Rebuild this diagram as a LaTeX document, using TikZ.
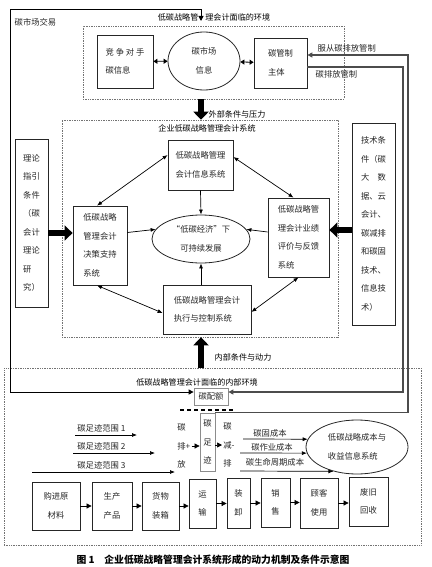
\documentclass[tikz,border=0pt]{standalone}
\usepackage{fontspec}
\setmainfont{Noto Sans CJK SC}
\usetikzlibrary{arrows.meta,shapes.geometric}

\begin{document}
\begin{tikzpicture}[x=1pt,y=-1pt,thick,
    body/.style={font=\fontsize{8.3}{18.5}\selectfont,text=black!85},
    head/.style={font=\fontsize{8.1}{10}\selectfont},
    sbox/.style 2 args={draw=black!85,line width=0.8pt,body,align=left,inner sep=0pt,minimum width=#1,minimum height=#2},
    gbox/.style 2 args={sbox={#1}{#2},draw=black!45,align=center},
    oval/.style 2 args={ellipse,draw=black!85,line width=0.8pt,body,align=left,inner sep=0pt,minimum width=#1,minimum height=#2},
    zone/.style 2 args={draw=black!55,line width=0.6pt,dash pattern=on 0.8pt off 0.9pt,inner sep=0pt,minimum width=#1,minimum height=#2},
    pair/.style={line width=0.8pt,{Triangle[length=4pt,width=5pt]}-{Triangle[length=4pt,width=5pt]}},
    link/.style={line width=0.7pt,{Latex[length=5pt,width=4pt]}-{Latex[length=5pt,width=4pt]}},
    flow/.style={line width=0.7pt,-{Latex[length=5pt,width=4pt]}},
    tip/.style={line width=0.7pt,-{Triangle[length=5pt,width=5pt]}},
    push/.style={line width=5.5pt,-{Triangle[length=8pt,width=15pt]}},
    ctl/.style={line width=1.1pt,draw=black!70,-{Triangle[length=5pt,width=5pt]}},
    trade/.style={line width=1pt,{Triangle[length=5pt,width=5pt]}-{Triangle[length=5pt,width=5pt]}},
  ]
  \useasboundingbox (0,0) rectangle (431,567);
  % Definitions
  \coordinate (axis) at (201,0);
  \coordinate (tradetop) at (201,21);
  \coordinate (tradecorner) at (10,10);
  \coordinate (obeycorner) at (408,55);
  \coordinate (emitcorner) at (403,67);

  % Outside environment
  \node[head] (envtitle) at (214,17) {低碳战略管\hspace{7pt}理会计面临的环境};
  \node[zone={261}{73}] (env) at (213.5,62.5) {};
  \node[sbox={56}{53}] (rival) at (125,61.5) {竞 争 对 手\\碳信息};
  \node[oval={72}{58},align=center] (mkt) at (204,61) {碳市场\\信息};
  \node[sbox={53}{50}] (ctrl) at (280.5,63) {碳管制\\主体};
  \draw[pair] (rival) -- (mkt);
  \draw[pair] (mkt) -- (ctrl);
  \node[body,anchor=west] (tradelbl) at (11,22) {碳市场交易};
  \node[body,anchor=west] (obeylbl) at (314,48) {服从碳排放管制};
  \node[body,anchor=west] (emitlbl) at (312,74) {碳排放管制};

  % Accounting system
  \node[zone={276}{217}] (sys) at (200,228.5) {};
  \draw[push] (env.south -| axis) -- (sys.north -| axis);
  \node[head,anchor=west] (extlbl) at (205,114) {外部条件与压力};
  \node[head] (systitle) at (207,128) {企业低碳战略管理会计系统};
  \node[sbox={65}{50}] (info) at (200.5,165) {低碳战略管理\\会计信息系统};
  \node[oval={98}{48},align=center] (goal) at (201,239) {“低碳经济”下\\可持续发展};
  \node[sbox={54}{79}] (dec) at (100,245.5) {低碳战略\\管理会计\\决策支持\\系统};
  \node[sbox={61}{79}] (eval) at (298.5,237.5) {低碳战略管\\理会计业绩\\评价与反馈\\系统};
  \node[sbox={88}{49}] (exec) at (207,309.5) {低碳战略管理会计\\执行与控制系统};
  \node[sbox={33}{168}] (theory) at (31.5,223) {理论\\指引\\条件\\（碳\\会计\\理论\\研\\究）};
  \node[sbox={43}{202}] (tech) at (373.5,224) {技术条\\件（碳\\大\quad 数\\据、云\\会计、\\碳减排\\和碳固\\技术、\\信息技\\术）};
  \draw[link] ([yshift=10pt]info.west) -- ([xshift=-3pt]dec.north);
  \draw[link] ([yshift=8pt]info.east) -- ([xshift=-5pt]eval.north);
  \draw[link] ([xshift=-3pt]dec.south) -- ([yshift=-3.5pt]exec.west);
  \draw[link] (eval.south) -- ([yshift=-2.5pt]exec.east);
  \draw[flow] (info.south) -- (goal.north);
  \draw[flow] ([yshift=13pt]dec.east) -- (goal.168);
  \draw[flow] ([yshift=5.5pt]eval.west) -- (goal.12);
  \draw[flow] (exec.north -| goal.south) -- (goal.south);
  \draw[push] ([yshift=-10pt]theory.east) -- ([yshift=12.5pt]dec.west);
  \draw[push] ([yshift=-6pt]tech.west) -- ([yshift=7.5pt]eval.east);

  % Inside environment
  \node[zone={417}{177}] (inner) at (212.5,456.5) {};
  \draw[push] (inner.north -| axis) -- (sys.south -| axis);
  \node[head,anchor=west] (intlbl) at (211,357) {内部条件与动力};
  \node[head] (innertitle) at (197,382) {低碳战略管理会计面临的内部环境};
  \node[gbox={34}{17}] (quota) at (211,396.5) {碳配额};
  \draw[line width=1.3pt,dash pattern=on 4pt off 3pt] (180,410) -- (233,410);
  \draw[trade] (tradetop) |- (tradecorner) |- ([yshift=4.5pt]quota.west);

  % Footprint scopes
  \foreach \i/\xs/\xe/\y in {1/75/137/435,2/73/155/453,3/32/175/472} {
    \coordinate (fps\i) at (\xs,\y);
    \coordinate (fpe\i) at (\xe,\y);
    \draw[flow] (fps\i) -- (fpe\i);
    \node[body,anchor=south west,inner sep=1pt] (scope\i) at (76,\y-1) {碳足迹范围 \i};
  }
  \node[body,align=left,anchor=west,inner sep=1pt] (emit) at (176,446) {碳\\排+\\放};
  \node[gbox={15}{58}] (fp) at (207.5,442) {碳\\足\\迹};
  \node[body,align=left,anchor=west,inner sep=1pt] (cut) at (222,445) {碳\\减-\\排};
  \draw[tip] (emit.east) -- (emit.east -| fp.west);
  \draw[tip] (cut.west -| fp.east) -- (cut.west);
  \draw[ctl] (fp.north east) -| (obeycorner) -- ([yshift=8pt]ctrl.east);
  \draw[ctl] ([yshift=-4pt]ctrl.east) -- (emitcorner) |- ([yshift=4.5pt]quota.east);

  % Costs
  \node[oval={102}{54}] (cost) at (357,447) {低碳战略成本与\\收益信息系统};
  \foreach \i/\xs/\y/\ang/\lx/\ly/\txt in {1/243/439/171/270/433/碳固成本,2/240/453/187/272/447/碳作业成本,3/240/471/226/275/462/碳生命周期成本} {
    \coordinate (cs\i) at (\xs,\y);
    \draw[flow] (cs\i) -- (cost.\ang);
    \node[body,inner sep=1pt] (cl\i) at (\lx,\ly) {\txt};
  }

  % Value chain
  \foreach \n/\cx/\cy/\w/\h/\txt in {1/56/506/48/48/购进原\\材料,2/112/506/40/48/生产\\产品,3/160.5/506/37/48/货物\\装箱,4/202.5/503.5/27/49/运\\输,5/238.5/503/23/50/装\\卸,6/275.5/502.5/29/49/销\\售,7/319/503/38/50/顾客\\使用,8/368.5/501.5/39/49/废旧\\回收} {
    \node[sbox={\w}{\h},align=center] (chain\n) at (\cx,\cy) {\txt};
  }
  \foreach \a/\b in {1/2,2/3,3/4,4/5,5/6,6/7,7/8} {
    \draw[tip] (chain\a.east) -- (chain\a.east -| chain\b.west);
  }

  % Caption
  \node[font=\fontsize{9.8}{12}\selectfont\bfseries] (caption) at (213,560) {图 1\quad 企业低碳战略管理会计系统形成的动力机制及条件示意图};
\end{tikzpicture}
\end{document}
